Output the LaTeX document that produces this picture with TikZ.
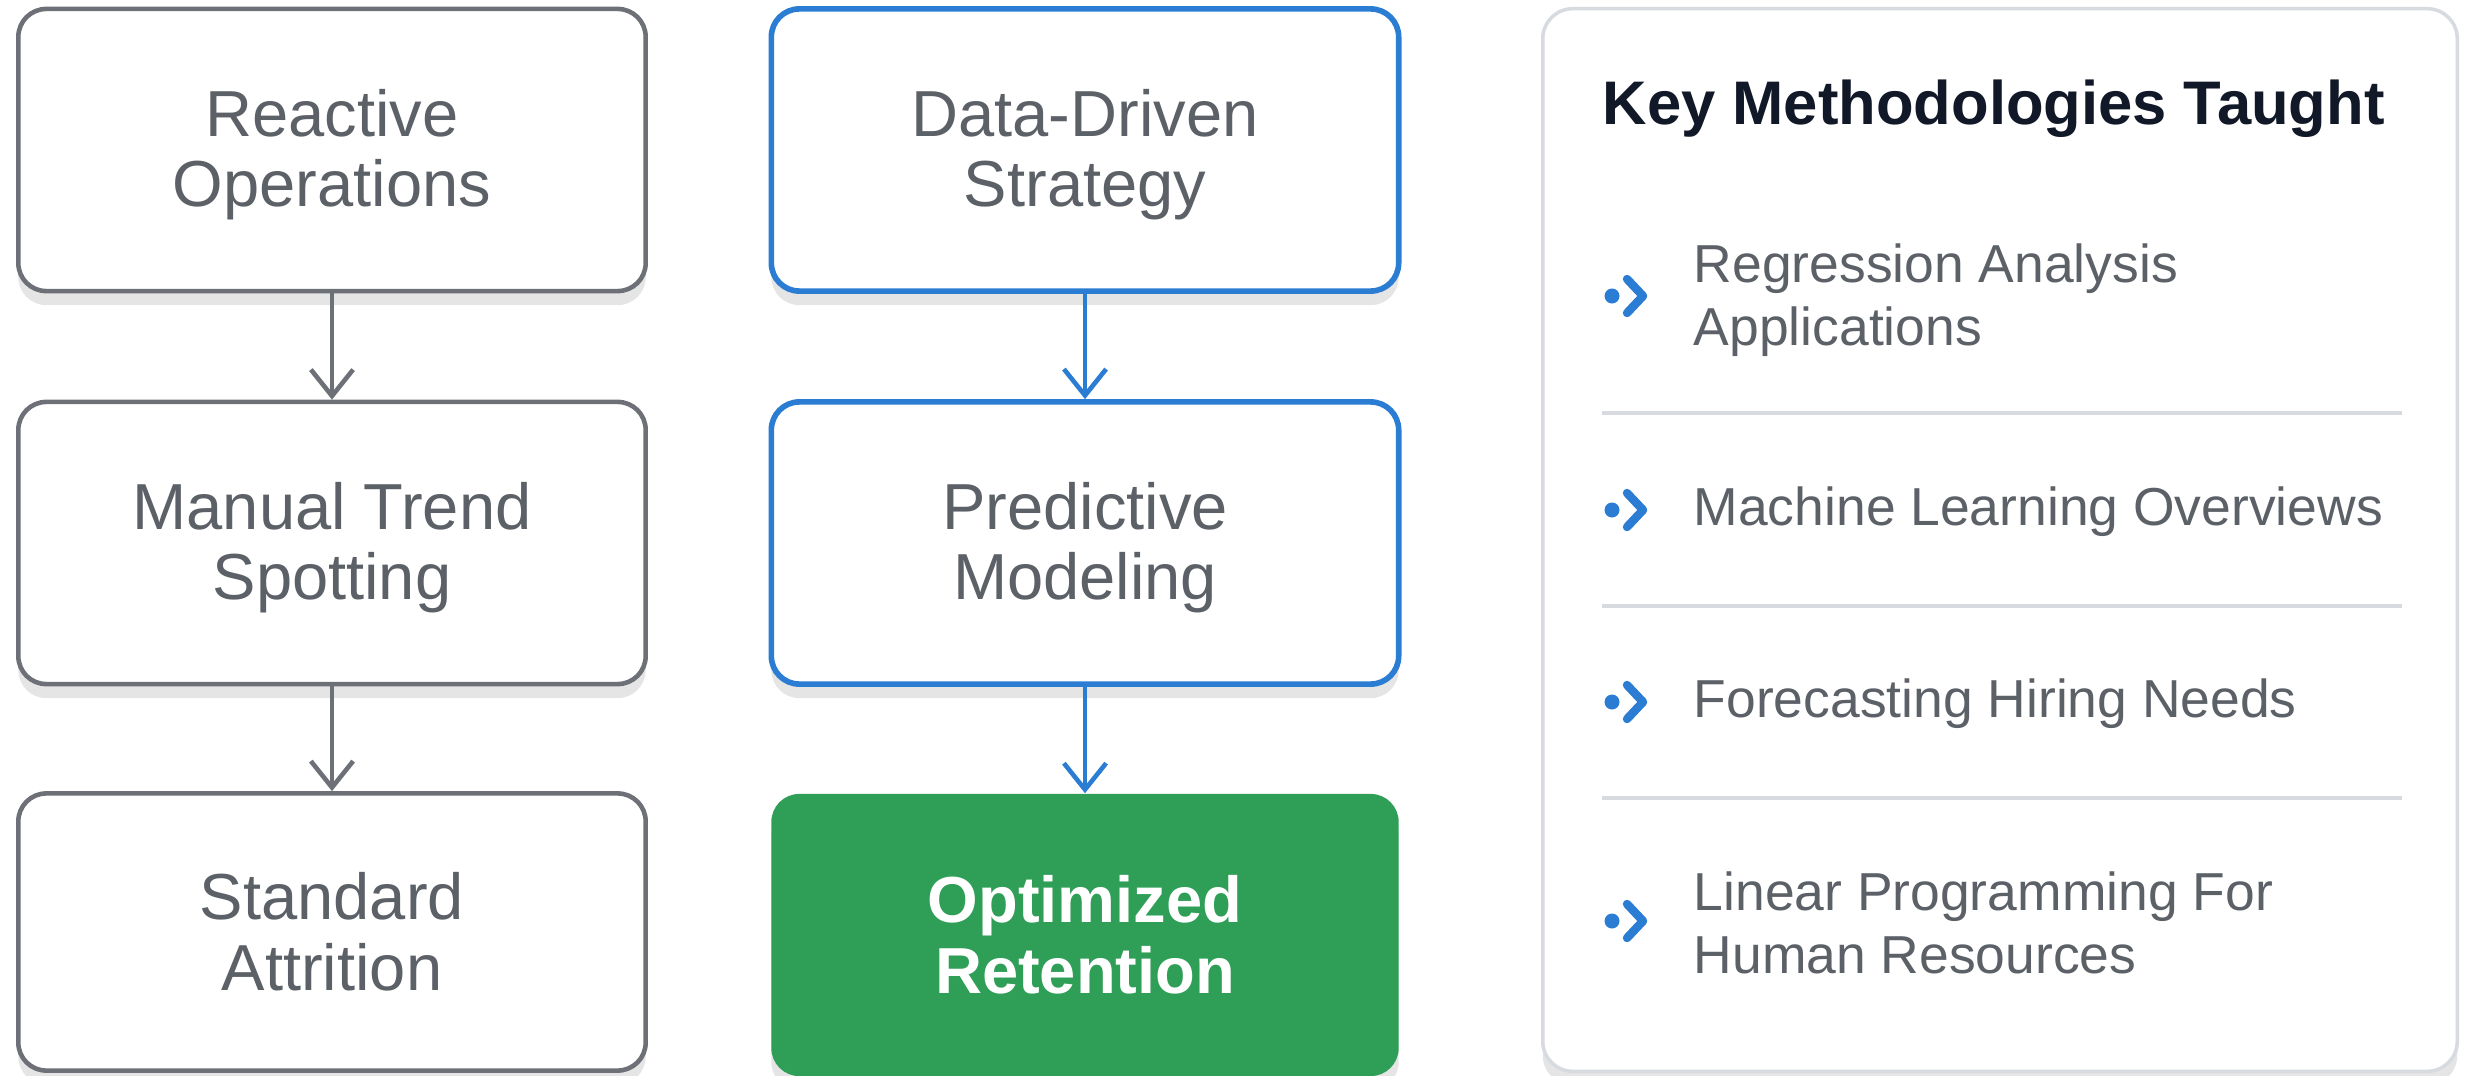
\documentclass[tikz,border=0pt]{standalone}
\usepackage{fontspec}
\setmainfont{Liberation Sans}
\usetikzlibrary{arrows.meta,shadows}
\definecolor{boxgray}{HTML}{6D7077}
\definecolor{txtgray}{HTML}{5C6067}
\definecolor{accblue}{HTML}{2B7CD3}
\definecolor{accgreen}{HTML}{2F9E57}
\definecolor{panelline}{HTML}{D7DADE}
\definecolor{titlecol}{HTML}{111827}
\newcommand{\twoln}[2]{\rule{0pt}{16pt}#1\\#2\rule[-3pt]{0pt}{3pt}}
\tikzset{
  softshadow/.style={drop shadow={shadow xshift=0pt, shadow yshift=-4pt, opacity=0.10, fill=black}},
  basebox/.style={rounded corners=0.28cm, minimum width=6.27cm, minimum height=2.82cm,
     align=center, font=\fontsize{18.5}{20}\selectfont, softshadow},
  graybox/.style={basebox, draw=boxgray, line width=1.3pt, fill=white, text=txtgray},
  bluebox/.style={basebox, draw=accblue, line width=1.6pt, fill=white, text=txtgray},
  greenbox/.style={basebox, fill=accgreen, text=white, font=\fontsize{18.5}{20}\selectfont\bfseries},
  grayarrow/.style={draw=boxgray, line width=1.3pt, -{Straight Barb[length=7.5pt,width=12pt,line width=1.3pt]}},
  bluearrow/.style={draw=accblue, line width=1.3pt, -{Straight Barb[length=7.5pt,width=12pt,line width=1.3pt]}},
  panelbox/.style={draw=panelline, line width=1pt, fill=white, rounded corners=0.3cm,
     minimum width=9.14cm, minimum height=10.62cm, softshadow},
  itemtext/.style={anchor=west, align=left, text=txtgray, font=\fontsize{15.2}{18}\selectfont, inner sep=0pt},
  sepline/.style={draw=panelline, line width=1pt},
  bulletdot/.style={fill=accblue},
  bulletchev/.style={draw=accblue, line width=2.4pt, line cap=round, line join=round},
}
\begin{document}
\begin{tikzpicture}[x=0.01cm,y=-0.01cm]
\useasboundingbox (0,0) rectangle (2470,1076);
\fill[white] (0,0) rectangle (2470,1076);

% left column
\node[graybox] (L1) at (332,150) {\twoln{Reactive}{Operations}};
\node[graybox] (L2) at (332,543) {\twoln{Manual Trend}{Spotting}};
\node[graybox, minimum height=2.77cm] (L3) at (332,932) {\twoln{Standard}{Attrition}};
\draw[grayarrow] (L1.south) -- (L2.north);
\draw[grayarrow] (L2.south) -- (L3.north);

% middle column
\node[bluebox] (M1) at (1085,150) {\twoln{Data-Driven}{Strategy}};
\node[bluebox] (M2) at (1085,543) {\twoln{Predictive}{Modeling}};
\node[greenbox] (M3) at (1085,935) {\twoln{Optimized}{Retention}};
\draw[bluearrow] (M1.south) -- (M2.north);
\draw[bluearrow] (M2.south) -- (M3.north);

% right panel
\node[panelbox] (panel) at (2000,540) {};
\node[anchor=west, inner sep=0pt, text=titlecol, font=\fontsize{17.5}{21}\selectfont\bfseries] (title) at (1602,109) {Key Methodologies Taught};

\node[itemtext] (i1) at (1693,300) {Regression Analysis\\Applications};
\node[itemtext] (i2) at (1693,512) {Machine Learning Overviews};
\node[itemtext] (i3) at (1693,704) {Forecasting Hiring Needs};
\node[itemtext] (i4) at (1693,923) {Linear Programming For\\Human Resources};

\coordinate (s1a) at (1602,413); \coordinate (s1b) at (2402,413);
\coordinate (s2a) at (1602,606); \coordinate (s2b) at (2402,606);
\coordinate (s3a) at (1602,798); \coordinate (s3b) at (2402,798);
\draw[sepline] (s1a) -- (s1b);
\draw[sepline] (s2a) -- (s2b);
\draw[sepline] (s3a) -- (s3b);

\foreach \yy in {296,510,702,921}{
  \fill[bulletdot] (1612,\yy) circle (0.075cm);
  \draw[bulletchev] (1627,\yy-17) -- (1643,\yy) -- (1627,\yy+17);
}
\end{tikzpicture}
\end{document}
